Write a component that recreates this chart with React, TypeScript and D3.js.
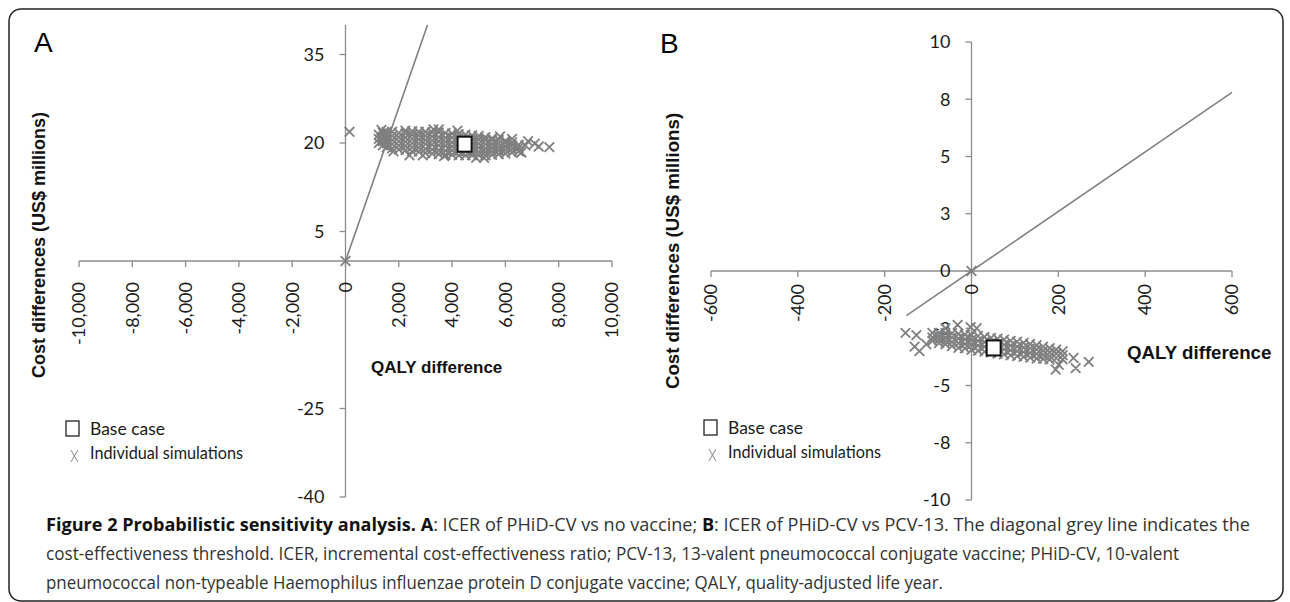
import * as d3 from 'd3';

// Panel A: PHiD-CV vs no vaccine
const A_X_TICKS = [-10000, -8000, -6000, -4000, -2000, 0, 2000, 4000, 6000, 8000, 10000];
const A_X_LABELS = ['-10,000', '-8,000', '-6,000', '-4,000', '-2,000', '0', '2,000', '4,000', '6,000', '8,000', '10,000'];
const A_Y_TICKS = [35, 20, 5, -25, -40];
const A_Y_LABELS = ['35', '20', '5', '-25', '-40'];
const A_THRESHOLD = [[0, 0], [3077, 40]];
const A_BASE = [4470, 19.8];
const A_SIMS: [number, number][] = [
  [1250, 20.0], [1250, 20.7], [1250, 21.4],
  [1400, 19.6], [1400, 20.3], [1400, 21.0], [1400, 21.7],
  [1550, 19.3], [1550, 20.0], [1550, 20.7], [1550, 21.4], [1550, 21.9],
  [1750, 19.1], [1750, 19.8], [1750, 20.5], [1750, 21.2], [1750, 21.9],
  [2000, 18.9], [2000, 19.6], [2000, 20.3], [2000, 21.0], [2000, 21.7],
  [2250, 18.8], [2250, 19.5], [2250, 20.2], [2250, 20.9], [2250, 21.6], [2250, 22.1],
  [2500, 18.6], [2500, 19.3], [2500, 20.0], [2500, 20.7], [2500, 21.4], [2500, 22.0],
  [2750, 18.5], [2750, 19.2], [2750, 19.9], [2750, 20.6], [2750, 21.3], [2750, 21.9],
  [3000, 18.3], [3000, 19.0], [3000, 19.8], [3000, 20.5], [3000, 21.2], [3000, 21.9],
  [3250, 18.2], [3250, 18.9], [3250, 19.7], [3250, 20.4], [3250, 21.1], [3250, 21.8],
  [3500, 18.1], [3500, 18.8], [3500, 19.6], [3500, 20.3], [3500, 21.0], [3500, 21.8],
  [3750, 18.0], [3750, 18.7], [3750, 19.5], [3750, 20.2], [3750, 20.9], [3750, 21.7],
  [4000, 18.0], [4000, 18.7], [4000, 19.4], [4000, 20.1], [4000, 20.9], [4000, 21.6],
  [4250, 17.9], [4250, 18.6], [4250, 19.3], [4250, 20.0], [4250, 20.8], [4250, 21.5],
  [4500, 17.9], [4500, 18.6], [4500, 19.3], [4500, 20.0], [4500, 20.7], [4500, 21.4],
  [4750, 17.9], [4750, 18.5], [4750, 19.2], [4750, 19.9], [4750, 20.6], [4750, 21.3],
  [5000, 17.9], [5000, 18.5], [5000, 19.2], [5000, 19.9], [5000, 20.6], [5000, 21.2],
  [5250, 17.9], [5250, 18.5], [5250, 19.1], [5250, 19.8], [5250, 20.5], [5250, 21.0],
  [5500, 18.0], [5500, 18.6], [5500, 19.2], [5500, 19.8], [5500, 20.5], [5500, 20.8],
  [5750, 18.1], [5750, 18.7], [5750, 19.3], [5750, 19.9], [5750, 20.5],
  [6000, 18.2], [6000, 18.8], [6000, 19.4], [6000, 20.0], [6000, 20.4],
  [6250, 18.4], [6250, 19.0], [6250, 19.6], [6250, 20.1],
  [6500, 18.6], [6500, 19.2], [6500, 19.7],
  [6750, 19.6], [6850, 20.3], [7100, 19.9], [7250, 19.4], [7650, 19.3], [6600, 18.4],
  [5800, 21.1], [6250, 20.7], [1350, 22.2], [1800, 18.6], [2400, 17.9], [3700, 17.8],
  [4200, 22.1], [3300, 22.3], [5200, 17.5], [2900, 17.9], [4900, 17.5], [3500, 22.3],
  [150, 21.9], [0, 0],
];

// Panel B: PHiD-CV vs PCV-13
const B_X_TICKS = [-600, -400, -200, 0, 200, 400, 600];
const B_X_LABELS = ['-600', '-400', '-200', '0', '200', '400', '600'];
const B_Y_TICKS = [10, 7.5, 5, 2.5, 0, -2.5, -5, -7.5, -10];
const B_Y_LABELS = ['10', '8', '5', '3', '0', '-3', '-5', '-8', '-10'];
const B_THRESHOLD = [[-150, -1.95], [600, 7.8]];
const B_BASE = [51, -3.36];
const B_SIMS: [number, number][] = [
  [-90, -2.7], [-90, -2.9], [-90, -3.05],
  [-75, -2.7], [-75, -2.85], [-75, -3.0], [-75, -3.15],
  [-60, -2.7], [-60, -2.9], [-60, -3.05], [-60, -3.2],
  [-45, -2.72], [-45, -2.9], [-45, -3.1], [-45, -3.28],
  [-30, -2.75], [-30, -2.95], [-30, -3.15], [-30, -3.35],
  [-15, -2.78], [-15, -2.98], [-15, -3.18], [-15, -3.38],
  [0, -2.8], [0, -3.0], [0, -3.22], [0, -3.44],
  [15, -2.84], [15, -3.05], [15, -3.26], [15, -3.48],
  [30, -2.88], [30, -3.1], [30, -3.3], [30, -3.52],
  [45, -2.92], [45, -3.14], [45, -3.34], [45, -3.56],
  [60, -2.96], [60, -3.18], [60, -3.38], [60, -3.6],
  [75, -3.0], [75, -3.22], [75, -3.42], [75, -3.64],
  [90, -3.05], [90, -3.26], [90, -3.46], [90, -3.68],
  [105, -3.09], [105, -3.3], [105, -3.5], [105, -3.72],
  [120, -3.14], [120, -3.34], [120, -3.54], [120, -3.75],
  [135, -3.19], [135, -3.38], [135, -3.58], [135, -3.78],
  [150, -3.24], [150, -3.42], [150, -3.62], [150, -3.82],
  [165, -3.3], [165, -3.48], [165, -3.66], [165, -3.84],
  [180, -3.37], [180, -3.55], [180, -3.72], [180, -3.87],
  [195, -3.43], [195, -3.6], [195, -3.8],
  [210, -3.5], [210, -3.68], [210, -3.86],
  [-152, -2.7], [-127, -2.8], [-131, -3.3], [-104, -3.2], [-120, -3.5],
  [235, -3.8], [240, -4.24], [270, -3.97], [194, -4.3], [201, -4.1],
  [-32, -2.35], [-2, -2.45], [12, -2.5], [-60, -2.5],
  [0, 0],
];

const W = 1290, H = 602;
const AXIS = '#8c8c8c';
const MARK = '#7f7f7f';
const TICK_FONT = 'Lato, "Open Sans", sans-serif';
const BOLD_FONT = '"Liberation Sans", Arial, sans-serif';

const xA = d3.scaleLinear().domain([-10000, 10000]).range([79, 612]);
const yA = d3.scaleLinear().domain([-40, 40]).range([497, 25]);
const xB = d3.scaleLinear().domain([-600, 600]).range([711, 1232]);
const yB = d3.scaleLinear().domain([-10, 10]).range([500, 42]);

function crosses(pts: [number, number][], x: d3.ScaleLinear<number, number>, y: d3.ScaleLinear<number, number>, s = 4.8) {
  return pts
    .map(([a, b]) => {
      const px = x(a), py = y(b);
      return `M${px - s},${py - s}L${px + s},${py + s}M${px - s},${py + s}L${px + s},${py - s}`;
    })
    .join('');
}

function Panel(props: {
  x: d3.ScaleLinear<number, number>;
  y: d3.ScaleLinear<number, number>;
  xTicks: number[]; xLabels: string[];
  yTicks: number[]; yLabels: string[];
  threshold: number[][]; base: number[]; sims: [number, number][];
  xLabelGap: number; tickSize: number;
}) {
  const { x, y, xTicks, xLabels, yTicks, yLabels, threshold, base, sims, xLabelGap, tickSize } = props;
  const x0 = x(0), y0 = y(0);
  const [yMin, yMax] = y.domain();
  const [xMin, xMax] = x.domain();
  const line = d3.line<number[]>().x((d) => x(d[0])).y((d) => y(d[1]));
  return (
    <g>
      <line x1={x0} x2={x0} y1={y(yMax)} y2={y(yMin)} stroke={AXIS} strokeWidth={1.3} />
      <line x1={x(xMin)} x2={x(xMax)} y1={y0} y2={y0} stroke={AXIS} strokeWidth={1.3} />
      {yTicks.map((t, i) => (
        <g key={'y' + t}>
          <line x1={x0 - 6} x2={x0} y1={y(t)} y2={y(t)} stroke={AXIS} strokeWidth={1.3} />
          <text x={x0 - 21} y={y(t)} dy="0.35em" textAnchor="end" fontFamily={TICK_FONT} fontSize={tickSize} fill="#1a1a1a">
            {yLabels[i]}
          </text>
        </g>
      ))}
      {xTicks.map((t, i) => (
        <g key={'x' + t}>
          <line x1={x(t)} x2={x(t)} y1={y0} y2={y0 + 6} stroke={AXIS} strokeWidth={1.3} />
          <text
            transform={`translate(${x(t)},${y0 + xLabelGap}) rotate(-90)`}
            dy="0.35em" textAnchor="end" fontFamily={TICK_FONT} fontSize={tickSize} fill="#1a1a1a"
          >
            {xLabels[i]}
          </text>
        </g>
      ))}
      <path d={line(threshold) || ''} stroke="#808080" strokeWidth={1.6} fill="none" />
      <path d={crosses(sims, x, y)} stroke={MARK} strokeWidth={1.8} fill="none" />
      <rect x={x(base[0]) - 7} y={y(base[1]) - 7.5} width={14} height={15} fill="#fff" stroke="#111" strokeWidth={2} />
    </g>
  );
}

function Legend({ x, y }: { x: number; y: number }) {
  return (
    <g fontFamily={TICK_FONT} fontSize={17} fill="#1a1a1a">
      <rect x={x} y={y} width={13} height={15} fill="#fff" stroke="#222" strokeWidth={1.3} />
      <text x={x + 24} y={y + 14} textLength={75} lengthAdjust="spacingAndGlyphs">Base case</text>
      <path d={`M${x + 5},${y + 29}L${x + 12},${y + 41}M${x + 12},${y + 29}L${x + 5},${y + 41}`} stroke="#999" strokeWidth={1.1} fill="none" />
      <text x={x + 24} y={y + 38} textLength={153} lengthAdjust="spacingAndGlyphs">Individual simulations</text>
    </g>
  );
}

export default function App() {
  return (
    <svg width={W} height={H} viewBox={`0 0 ${W} ${H}`} style={{ position: 'absolute', left: 0, top: 0, background: '#fff' }}>
      <rect x={9} y={9} width={1274} height={592} rx={12} fill="#fff" stroke="#222" strokeWidth={1.5} />

      {/* Panel A */}
      <text x={34} y={52} fontFamily={BOLD_FONT} fontSize={28}>A</text>
      <Panel x={xA} y={yA} xTicks={A_X_TICKS} xLabels={A_X_LABELS} yTicks={A_Y_TICKS} yLabels={A_Y_LABELS}
        threshold={A_THRESHOLD} base={A_BASE} sims={A_SIMS} xLabelGap={21} tickSize={18} />
      <text transform="translate(45,245) rotate(-90)" textAnchor="middle" fontFamily={BOLD_FONT} fontWeight="bold" fontSize={18} fill="#111">
        Cost differences (US$ millions)
      </text>
      <text x={371} y={373} fontFamily={BOLD_FONT} fontWeight="bold" fontSize={17} fill="#111">QALY difference</text>
      <Legend x={66} y={421} />

      {/* Panel B */}
      <text x={660} y={53} fontFamily={BOLD_FONT} fontSize={28}>B</text>
      <Panel x={xB} y={yB} xTicks={B_X_TICKS} xLabels={B_X_LABELS} yTicks={B_Y_TICKS} yLabels={B_Y_LABELS}
        threshold={B_THRESHOLD} base={B_BASE} sims={B_SIMS} xLabelGap={13} tickSize={18} />
      <text transform="translate(679,251) rotate(-90)" textAnchor="middle" fontFamily={BOLD_FONT} fontWeight="bold" fontSize={18.7} fill="#111">
        Cost differences (US$ millions)
      </text>
      <text x={1127} y={359} fontFamily={BOLD_FONT} fontWeight="bold" fontSize={18.7} fill="#111">QALY difference</text>
      <Legend x={704} y={420} />

      {/* Caption */}
      <g fontFamily='"Liberation Sans Narrow", "Open Sans", sans-serif' fontSize={18} fill="#333">
        <text x={46} y={531} textLength={1204} lengthAdjust="spacingAndGlyphs">
          <tspan fontWeight="bold" fill="#111">Figure 2 Probabilistic sensitivity analysis. A</tspan>
          <tspan>: ICER of PHiD-CV vs no vaccine; </tspan>
          <tspan fontWeight="bold" fill="#111">B</tspan>
          <tspan>: ICER of PHiD-CV vs PCV-13. The diagonal grey line indicates the</tspan>
        </text>
        <text x={46} y={560} textLength={1133} lengthAdjust="spacingAndGlyphs">
          cost-effectiveness threshold. ICER, incremental cost-effectiveness ratio; PCV-13, 13-valent pneumococcal conjugate vaccine; PHiD-CV, 10-valent
        </text>
        <text x={46} y={589} textLength={897} lengthAdjust="spacingAndGlyphs">
          pneumococcal non-typeable Haemophilus influenzae protein D conjugate vaccine; QALY, quality-adjusted life year.
        </text>
      </g>
    </svg>
  );
}
